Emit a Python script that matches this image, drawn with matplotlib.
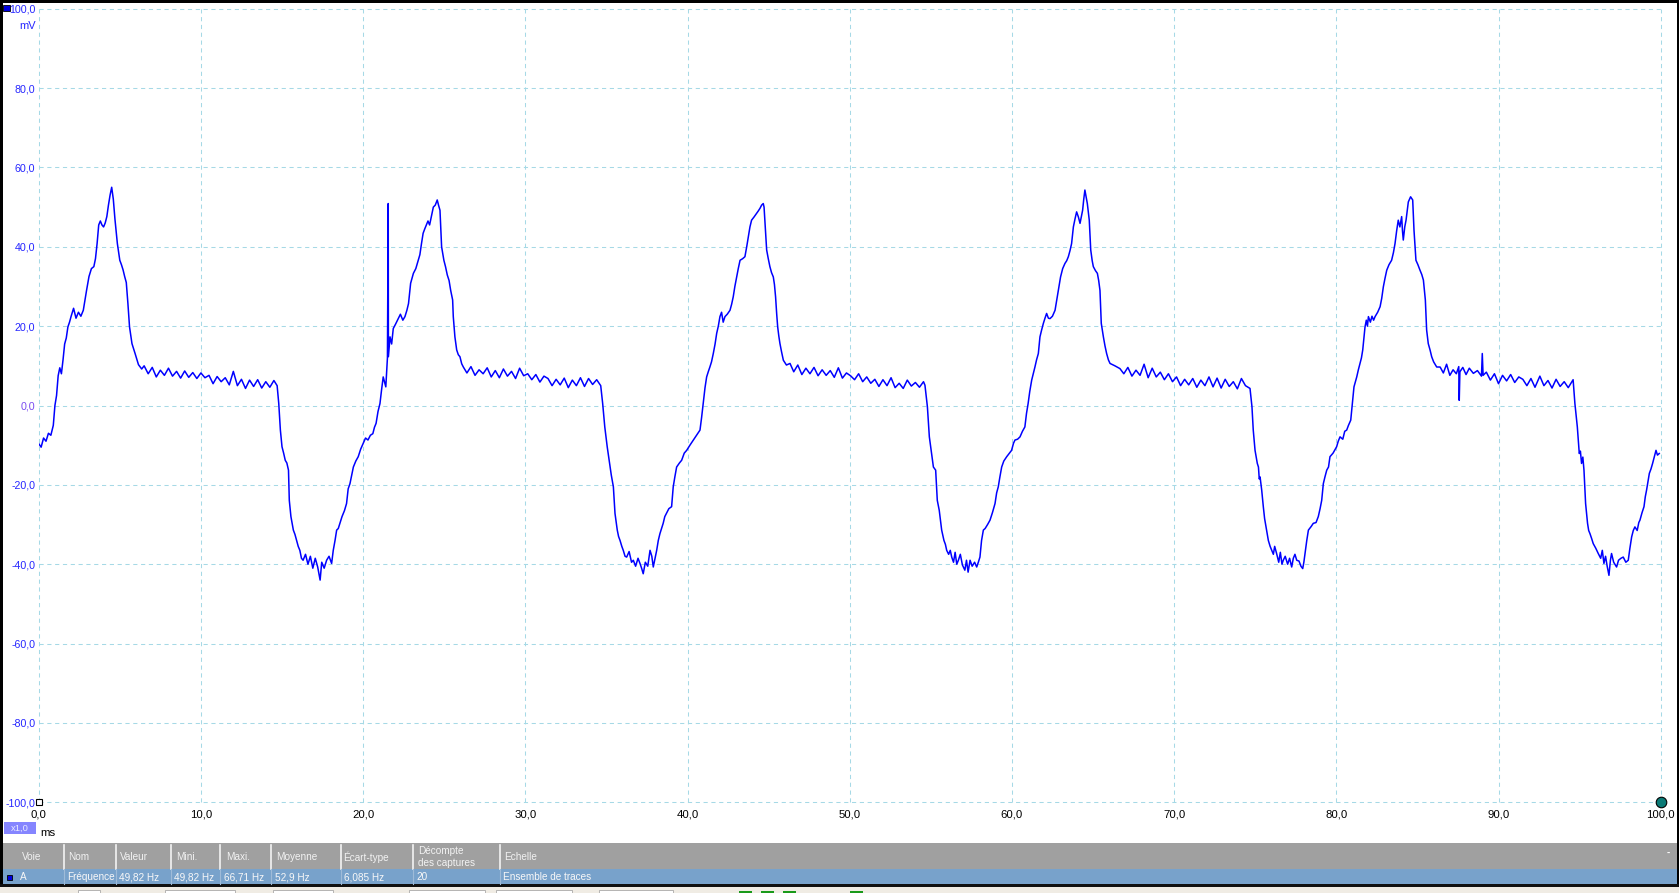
import matplotlib
matplotlib.use("Agg")
import matplotlib.pyplot as plt
from matplotlib.patches import Rectangle

plt.rcParams['font.family'] = ['Liberation Sans', 'DejaVu Sans']

W, H = 1679, 893

# axis ticks (ms / mV)
x_ticks = [0, 10, 20, 30, 40, 50, 60, 70, 80, 90, 100]
y_ticks = [-100, -80, -60, -40, -20, 0, 20, 40, 60, 80, 100]

# trace, (ms, mV), one list per cycle
cycle_1 = [
    (0.0, -9.6), (0.15, -10.5), (0.3, -8.2), (0.45, -9.0), (0.6, -7.0), (0.75, -7.5),
    (0.9, -5.0), (1.0, 0.0), (1.1, 2.5), (1.2, 7.5), (1.3, 9.5), (1.4, 8.0), (1.5, 11.5),
    (1.6, 15.5), (1.7, 17.0), (1.8, 19.8), (1.9, 21.0), (2.0, 22.5), (2.15, 24.5),
    (2.3, 22.0), (2.45, 23.5), (2.6, 22.5), (2.75, 24.0), (2.85, 26.5), (2.95, 29.0),
    (3.1, 32.5), (3.25, 34.5), (3.4, 35.0), (3.5, 37.0), (3.6, 40.8), (3.7, 45.5),
    (3.8, 46.5), (3.9, 45.5), (4.0, 45.0), (4.1, 46.0), (4.2, 47.6), (4.3, 50.5),
    (4.4, 53.0), (4.5, 55.0), (4.6, 52.0), (4.7, 47.0), (4.85, 40.8), (5.0, 36.6),
    (5.1, 35.5), (5.2, 34.2), (5.3, 32.5), (5.4, 31.0), (5.5, 25.7), (5.6, 19.8),
    (5.75, 15.6), (5.95, 13.0), (6.15, 10.3), (6.35, 9.2), (6.5, 10.0),
    (6.75, 8.0), (7.0, 9.6), (7.25, 7.2), (7.5, 8.9), (7.75, 7.6), (8.0, 9.4), (8.25, 7.4),
    (8.5, 8.6), (8.75, 6.9), (9.0, 8.7), (9.25, 7.1), (9.5, 8.3), (9.75, 6.8), (10.0, 8.2),
    (10.25, 7.0), (10.5, 7.6), (10.75, 5.5), (11.0, 7.3), (11.25, 6.0), (11.5, 7.0),
    (11.75, 5.2), (12.0, 8.6), (12.25, 5.0), (12.5, 6.6), (12.75, 4.3), (13.0, 6.4),
    (13.25, 4.8), (13.5, 6.5), (13.75, 4.4), (14.0, 6.0), (14.25, 4.6), (14.5, 6.3),
    (14.7, 5.0), (14.8, 0.5), (14.9, -6.2), (15.0, -10.4), (15.1, -12.0), (15.2, -13.8),
    (15.3, -14.5), (15.4, -16.3), (15.45, -23.9), (15.55, -28.0), (15.7, -31.4),
    (15.8, -32.5), (15.9, -34.0), (16.0, -35.5), (16.1, -36.5), (16.2, -38.5),
    (16.3, -39.0), (16.45, -37.5), (16.6, -40.0), (16.75, -38.0), (16.9, -41.0),
    (17.05, -38.5), (17.2, -40.7), (17.35, -44.0), (17.45, -39.5), (17.6, -41.0),
    (17.75, -39.0), (17.9, -38.0), (18.06, -39.8), (18.16, -36.5), (18.27, -34.0),
    (18.37, -31.4), (18.47, -31.0), (18.57, -29.7), (18.7, -28.0), (18.85, -26.5),
    (18.98, -24.7), (19.08, -21.0), (19.19, -19.7), (19.3, -17.5), (19.4, -15.5),
    (19.55, -14.0), (19.7, -12.9), (19.85, -11.0),
]
cycle_2 = [
    (20.0, -9.6), (20.15, -8.2), (20.3, -8.7), (20.45, -7.5), (20.6, -7.1), (20.7, -5.5),
    (20.8, -4.5), (20.92, -1.5), (21.04, 0.5), (21.14, 4.0), (21.24, 7.2), (21.32, 6.0),
    (21.4, 4.7), (21.5, 12.0), (21.55, 50.9), (21.56, 12.3), (21.66, 17.3), (21.76, 15.5),
    (21.86, 19.4), (22.0, 20.5), (22.17, 21.9), (22.3, 23.0), (22.45, 21.5), (22.58, 22.4),
    (22.7, 24.0), (22.8, 25.7), (22.93, 30.8), (23.1, 33.3), (23.25, 34.5), (23.4, 36.6),
    (23.5, 38.0), (23.6, 40.8), (23.7, 43.4), (23.8, 44.5), (23.9, 45.5), (24.0, 46.5),
    (24.1, 45.5), (24.2, 47.5), (24.33, 50.0), (24.45, 50.5), (24.57, 51.8), (24.65, 50.5),
    (24.74, 49.2), (24.84, 40.0), (24.98, 36.6), (25.08, 35.0), (25.19, 32.9), (25.3, 31.5),
    (25.4, 29.0), (25.52, 26.6), (25.56, 22.4), (25.66, 17.3), (25.77, 14.0), (25.87, 12.8),
    (25.97, 12.3), (26.08, 10.5), (26.18, 9.7),
    (26.4, 8.2), (26.65, 9.8), (26.9, 7.6), (27.15, 9.0), (27.4, 8.0), (27.65, 9.5),
    (27.9, 7.2), (28.15, 8.8), (28.4, 7.0), (28.65, 9.2), (28.9, 7.4), (29.15, 8.6),
    (29.4, 6.8), (29.65, 9.4), (29.9, 7.5), (30.15, 8.0), (30.4, 6.5), (30.65, 7.8),
    (30.9, 5.9), (31.15, 7.4), (31.4, 6.8), (31.65, 5.0), (31.9, 6.6), (32.15, 5.2),
    (32.4, 6.9), (32.65, 4.5), (32.9, 6.4), (33.15, 5.0), (33.4, 7.0), (33.65, 4.8),
    (33.9, 6.8), (34.15, 5.3), (34.4, 6.5), (34.65, 5.0),
    (34.77, 0.5), (34.9, -5.4), (35.05, -10.4), (35.2, -14.6), (35.3, -17.5), (35.43, -20.5),
    (35.53, -27.2), (35.67, -31.4), (35.75, -33.0), (35.84, -34.0), (35.95, -35.5),
    (36.04, -36.5), (36.15, -38.0), (36.25, -38.2), (36.4, -36.8), (36.55, -39.5),
    (36.66, -39.0), (36.8, -40.5), (36.95, -38.5), (37.07, -39.8), (37.17, -41.0),
    (37.27, -42.4), (37.4, -39.5), (37.55, -40.5), (37.69, -36.5), (37.8, -38.0),
    (37.89, -40.7), (38.0, -38.5), (38.1, -36.5), (38.2, -34.0), (38.3, -32.3),
    (38.4, -31.0), (38.5, -29.7), (38.6, -28.0), (38.7, -27.2), (38.85, -26.0),
    (39.02, -25.5), (39.12, -20.5), (39.22, -18.0), (39.33, -15.5), (39.5, -14.5),
    (39.64, -13.8), (39.8, -12.0), (39.95, -11.3),
]
cycle_3 = [
    (40.15, -10.0), (40.36, -8.7), (40.55, -7.5), (40.77, -6.2), (40.87, -3.0), (40.97, 0.5),
    (41.08, 4.5), (41.18, 7.2), (41.28, 8.5), (41.38, 9.7), (41.48, 11.0), (41.59, 13.1),
    (41.7, 15.5), (41.8, 18.2), (41.9, 20.0), (42.0, 22.4), (42.1, 23.5), (42.2, 21.0),
    (42.31, 22.4), (42.45, 23.0), (42.62, 24.0), (42.72, 25.5), (42.82, 27.4), (42.92, 30.0),
    (43.03, 32.4), (43.13, 34.5), (43.24, 36.6), (43.4, 37.0), (43.54, 37.5), (43.65, 40.0),
    (43.75, 42.5), (43.85, 45.0), (43.95, 46.7), (44.1, 47.5), (44.26, 48.4), (44.36, 49.0),
    (44.47, 49.7), (44.57, 50.5), (44.67, 50.9), (44.72, 50.0), (44.78, 45.9), (44.88, 39.2),
    (44.98, 37.0), (45.08, 35.0), (45.18, 33.5), (45.29, 32.4), (45.36, 30.5), (45.43, 27.4),
    (45.5, 23.0), (45.56, 19.8), (45.63, 17.5), (45.7, 15.6), (45.8, 13.5), (45.91, 11.4),
    (46.1, 10.2), (46.32, 10.6),
    (46.55, 8.5), (46.8, 10.2), (47.05, 7.8), (47.3, 9.4), (47.55, 8.0), (47.8, 9.6),
    (48.05, 7.5), (48.3, 9.0), (48.55, 7.6), (48.8, 8.8), (49.05, 7.1), (49.3, 9.5),
    (49.55, 6.9), (49.8, 8.2), (50.05, 7.5), (50.3, 6.5), (50.55, 8.0), (50.8, 6.0),
    (51.05, 7.2), (51.3, 5.6), (51.55, 6.6), (51.8, 4.8), (52.05, 6.5), (52.3, 5.0),
    (52.55, 7.0), (52.8, 4.5), (53.05, 5.6), (53.3, 4.3), (53.55, 6.4), (53.8, 4.9),
    (54.05, 5.8), (54.3, 4.6), (54.55, 6.0), (54.64, 5.1),
    (54.79, -0.3), (54.91, -7.9), (55.05, -12.1), (55.16, -15.5), (55.3, -16.3),
    (55.4, -23.9), (55.52, -26.4), (55.6, -29.0), (55.67, -31.4), (55.81, -34.0),
    (55.9, -35.0), (55.98, -36.5), (56.1, -37.5), (56.2, -36.5), (56.29, -38.2),
    (56.4, -39.5), (56.5, -37.0), (56.6, -40.0), (56.7, -39.0), (56.82, -37.5),
    (56.95, -40.2), (57.1, -41.5), (57.2, -39.0), (57.3, -42.0), (57.42, -39.0),
    (57.55, -40.5), (57.7, -39.5), (57.83, -40.7), (57.93, -39.5), (58.03, -38.2),
    (58.13, -34.0), (58.24, -31.4), (58.35, -31.0), (58.5, -30.0), (58.65, -28.9),
    (58.8, -27.0), (58.96, -24.7), (59.06, -22.0), (59.16, -20.5), (59.26, -18.0),
    (59.37, -15.5), (59.5, -14.0), (59.68, -12.9), (59.85, -12.0), (59.98, -11.3),
]
cycle_4 = [
    (60.1, -9.5), (60.19, -8.7), (60.35, -8.5), (60.5, -7.9), (60.65, -6.5), (60.8, -5.4),
    (60.9, -2.0), (61.0, 0.5), (61.1, 3.5), (61.22, 6.4), (61.32, 8.0), (61.42, 9.7),
    (61.52, 11.5), (61.63, 13.1), (61.73, 17.3), (61.83, 19.0), (61.94, 20.7), (62.04, 22.0),
    (62.14, 23.2), (62.25, 22.0), (62.35, 21.9), (62.5, 22.5), (62.66, 24.0), (62.76, 26.5),
    (62.86, 29.0), (63.0, 32.4), (63.13, 34.5), (63.27, 35.8), (63.38, 36.5), (63.48, 37.5),
    (63.58, 39.0), (63.68, 40.8), (63.79, 45.0), (63.89, 47.0), (63.99, 48.8), (64.1, 47.5),
    (64.2, 45.9), (64.28, 47.5), (64.36, 49.2), (64.43, 52.0), (64.5, 54.3), (64.58, 52.5),
    (64.65, 50.9), (64.77, 46.7), (64.86, 39.2), (64.95, 36.5), (65.02, 35.0), (65.15, 34.0),
    (65.27, 33.3), (65.35, 31.5), (65.43, 29.0), (65.51, 20.7), (65.64, 17.3), (65.74, 15.0),
    (65.84, 13.1), (65.95, 11.5), (66.05, 10.6), (66.35, 10.0), (66.66, 9.3),
    (66.9, 8.0), (67.15, 9.6), (67.4, 7.4), (67.65, 8.9), (67.9, 7.6), (68.15, 10.4),
    (68.4, 7.0), (68.65, 9.4), (68.9, 7.2), (69.15, 8.4), (69.4, 6.5), (69.65, 8.0),
    (69.9, 6.0), (70.15, 7.2), (70.4, 5.0), (70.65, 6.6), (70.9, 5.2), (71.15, 6.8),
    (71.4, 4.6), (71.65, 6.4), (71.9, 5.0), (72.15, 7.2), (72.4, 4.7), (72.65, 6.9),
    (72.9, 4.4), (73.15, 6.6), (73.4, 4.8), (73.65, 6.0), (73.9, 4.2), (74.15, 6.8),
    (74.4, 5.0), (74.68, 4.3),
    (74.8, -0.3), (74.88, -6.2), (74.99, -11.3), (75.13, -14.6), (75.2, -15.5),
    (75.25, -18.5), (75.3, -18.0), (75.4, -21.3), (75.5, -25.5), (75.58, -28.5),
    (75.67, -30.6), (75.81, -34.0), (75.92, -35.5), (76.02, -36.5), (76.12, -37.5),
    (76.2, -35.5), (76.32, -37.3), (76.45, -39.5), (76.55, -37.0), (76.65, -40.0),
    (76.73, -39.0), (76.85, -38.0), (77.0, -40.0), (77.12, -38.5), (77.25, -40.7),
    (77.35, -38.5), (77.45, -37.5), (77.56, -39.0), (77.7, -39.2), (77.82, -40.5),
    (77.93, -41.1), (78.0, -39.5), (78.07, -37.3), (78.18, -34.0), (78.28, -31.4),
    (78.45, -30.5), (78.58, -29.7), (78.75, -29.5), (78.89, -28.0), (79.0, -26.0),
    (79.1, -23.9), (79.2, -19.7), (79.3, -18.0), (79.41, -16.3), (79.52, -15.5),
    (79.61, -12.9), (79.8, -12.0),
]
cycle_5 = [
    (80.02, -10.4), (80.12, -9.0), (80.23, -7.9), (80.4, -8.5), (80.52, -6.5), (80.64, -6.2),
    (80.75, -5.0), (80.89, -3.7), (80.99, 0.5), (81.09, 4.7), (81.18, 6.0), (81.26, 7.2),
    (81.36, 9.0), (81.46, 10.6), (81.55, 12.0), (81.63, 14.0), (81.7, 17.0), (81.77, 19.8),
    (81.85, 21.5), (81.92, 20.0), (81.98, 22.4), (82.1, 21.0), (82.2, 22.5), (82.3, 21.5),
    (82.39, 22.4), (82.55, 23.5), (82.7, 24.9), (82.8, 27.0), (82.9, 29.9), (83.0, 32.0),
    (83.11, 34.1), (83.25, 35.5), (83.41, 36.6), (83.52, 38.5), (83.62, 40.8), (83.72, 44.0),
    (83.82, 46.7), (83.92, 45.0), (84.03, 47.6), (84.08, 44.0), (84.13, 41.7), (84.22, 45.0),
    (84.3, 46.7), (84.37, 49.0), (84.44, 51.3), (84.58, 52.6), (84.71, 51.8), (84.79, 44.2),
    (84.91, 36.6), (85.03, 35.5), (85.16, 34.1), (85.27, 33.0), (85.37, 31.6), (85.49, 26.6),
    (85.57, 19.0), (85.67, 15.6), (85.78, 14.0), (85.88, 12.3), (86.0, 11.0), (86.19, 9.7),
    (86.4, 9.7), (86.6, 8.2), (86.8, 10.4), (87.0, 7.6), (87.2, 9.0), (87.4, 8.0),
    (87.55, 9.8), (87.58, 1.3), (87.62, 8.5), (87.8, 9.6), (88.0, 7.8), (88.2, 9.4),
    (88.45, 8.1), (88.7, 8.8), (88.95, 7.4), (89.0, 13.1), (89.05, 7.6), (89.25, 8.4),
    (89.5, 6.4), (89.75, 8.0), (90.0, 5.5), (90.25, 7.6), (90.5, 6.2), (90.75, 7.8),
    (91.0, 5.8), (91.25, 7.2), (91.5, 6.6), (91.75, 5.0), (92.0, 6.8), (92.25, 4.6),
    (92.55, 7.4), (92.8, 5.0), (93.05, 6.3), (93.3, 4.4), (93.55, 6.6), (93.8, 4.8),
    (94.05, 6.0), (94.3, 4.5), (94.6, 6.5),
    (94.71, 0.5), (94.86, -5.4), (94.98, -12.1), (95.05, -11.5), (95.12, -14.6),
    (95.2, -13.0), (95.27, -16.3), (95.37, -24.7), (95.49, -29.7), (95.56, -31.5),
    (95.64, -32.3), (95.74, -33.5), (95.84, -34.8), (96.0, -36.0), (96.15, -37.3),
    (96.3, -38.5), (96.4, -36.5), (96.5, -39.8), (96.6, -38.0), (96.7, -40.5),
    (96.81, -42.8), (96.9, -39.0), (96.97, -37.3), (97.1, -39.5), (97.28, -40.7),
    (97.4, -39.0), (97.55, -38.5), (97.69, -38.2), (97.85, -39.5), (98.0, -39.0),
    (98.1, -36.0), (98.21, -33.1), (98.31, -31.5), (98.41, -30.6), (98.55, -31.5),
    (98.65, -29.5), (98.72, -28.9), (98.85, -27.0), (98.97, -25.5), (99.05, -23.0),
    (99.13, -21.3), (99.22, -19.0), (99.3, -17.1), (99.4, -16.0), (99.5, -14.6),
    (99.6, -13.0), (99.71, -11.3), (99.8, -12.5), (99.91, -12.1),
]

# measurement table under the scope view
col_heads = ["Voie", "Nom", "Valeur", "Mini.", "Maxi.", "Moyenne", "Écart-type",
             "Décompte\ndes captures", "Echelle"]
row_vals = ["A", "Fréquence", "49,82 Hz", "49,82 Hz", "66,71 Hz", "52,9 Hz", "6,085 Hz",
            "20", "Ensemble de traces"]
head_x = [22, 68, 120, 176, 226, 276, 343, 418, 504]
row_x = [20, 67, 119, 174, 224, 275, 344, 416, 503]
col_sep_x = [64, 116, 171, 220, 271, 341, 413, 500]


def fx(px):
    return px / W


def fy(py):
    return 1 - py / H


def fmt(v):
    return f"{v:.1f}".replace(".", ",")


fig = plt.figure(figsize=(W / 100, H / 100), dpi=100)
fig.patch.set_facecolor("white")

x0, x1, y0, y1 = 38.7, 1660.7, 8.7, 802.3
ax = fig.add_axes([fx(x0), fy(y1), fx(x1 - x0), (y1 - y0) / H])
ax.set_xlim(x_ticks[0], x_ticks[-1])
ax.set_ylim(y_ticks[0], y_ticks[-1])
ax.patch.set_alpha(0)
for s in ax.spines.values():
    s.set_visible(False)

ax.set_xticks(x_ticks)
ax.set_xticklabels([fmt(v) for v in x_ticks])
ax.set_yticks(y_ticks)
ax.set_yticklabels([fmt(v) for v in y_ticks])
ax.tick_params(axis="x", length=0, pad=5.5, labelsize=8.2, labelcolor="black")
ax.tick_params(axis="y", length=0, pad=2.4, labelsize=7.7, labelcolor="#2626ff")
for lab in ax.get_yticklabels():
    if lab.get_text() == "0,0":
        lab.set_color("#7a4cf0")

ax.grid(True, color="#a6d9e6", linestyle=(0, (4, 3.5)), linewidth=0.75)
ax.set_axisbelow(True)
for gl in ax.get_xgridlines() + ax.get_ygridlines():
    gl.set_clip_on(False)

cycles = [cycle_1, cycle_2, cycle_3, cycle_4, cycle_5]
t_ms = [p[0] for c in cycles for p in c]
v_mv = [p[1] for c in cycles for p in c]
ax.plot(t_ms, v_mv, color="#0000ff", lw=1.1, zorder=3)

# corner handles
ax.plot([x_ticks[0]], [y_ticks[0]], marker="s", ms=4.4, mfc="white", mec="black",
        mew=0.8, clip_on=False, zorder=5)
ax.plot([x_ticks[-1]], [y_ticks[0]], marker="o", ms=7.6, mfc="#0b7a76", mec="black",
        mew=0.8, clip_on=False, zorder=5)

fig.text(fx(35.5), fy(25.7), "mV", ha="right", va="center", fontsize=7.9, color="#2626ff")
fig.patches.append(Rectangle((fx(3.3), fy(11)), fx(6.4), 6.3 / H, transform=fig.transFigure,
                             facecolor="#0000dd", edgecolor="black", lw=0.6))

# x1,0 zoom box and unit
fig.patches.append(Rectangle((fx(4), fy(834)), fx(31.7), 12.3 / H, transform=fig.transFigure,
                             facecolor="#8585ff", edgecolor="none"))
fig.text(fx(20), fy(828.3), "x1,0", ha="center", va="center", fontsize=6.8, color="#e8e8ff")
fig.text(fx(40.5), fy(832.5), "ms", ha="left", va="center", fontsize=8.2, color="black")

# window borders
fig.patches.append(Rectangle((0, 0), fx(3), 1, transform=fig.transFigure,
                             facecolor="black", edgecolor="none"))
fig.patches.append(Rectangle((0, fy(3)), 1, 3 / H, transform=fig.transFigure,
                             facecolor="black", edgecolor="none"))
fig.patches.append(Rectangle((fx(1676.7), 0), fx(2.3), 1, transform=fig.transFigure,
                             facecolor="black", edgecolor="none"))

# table
fig.patches.append(Rectangle((fx(3), fy(868.7)), fx(1673.7), 26 / H, transform=fig.transFigure,
                             facecolor="#a0a0a0", edgecolor="none"))
fig.patches.append(Rectangle((fx(3), fy(884)), fx(1673.7), 15.3 / H, transform=fig.transFigure,
                             facecolor="#78a2cb", edgecolor="none"))
fig.patches.append(Rectangle((0, fy(887)), 1, 3 / H, transform=fig.transFigure,
                             facecolor="#101010", edgecolor="none"))
fig.patches.append(Rectangle((0, 0), 1, 6 / H, transform=fig.transFigure,
                             facecolor="#f0ece4", edgecolor="none"))
for sx in col_sep_x:
    fig.add_artist(plt.Line2D([fx(sx), fx(sx)], [fy(868.5), fy(844.5)], color="#f4f4f4", lw=1.2))
    fig.add_artist(plt.Line2D([fx(sx), fx(sx)], [fy(884), fy(869)], color="#9fbbd8", lw=0.8))
for hx, head in zip(head_x, col_heads):
    if "\n" in head:
        top, bot = head.split("\n")
        fig.text(fx(hx), fy(851), top, ha="left", va="center", fontsize=7.2, color="#f2f2f2")
        fig.text(fx(hx), fy(862.5), bot, ha="left", va="center", fontsize=7.2, color="#f2f2f2")
    else:
        fig.text(fx(hx), fy(857), head, ha="left", va="center", fontsize=7.2, color="#f2f2f2")
for rx, val in zip(row_x, row_vals):
    fig.text(fx(rx), fy(877.3), val, ha="left", va="center", fontsize=7.2, color="#f8f8f8")
fig.text(fx(1668), fy(853), "-", ha="center", va="center", fontsize=7, color="white",
         fontweight="bold")
fig.patches.append(Rectangle((fx(7.3), fy(880)), fx(5), 5.3 / H, transform=fig.transFigure,
                             facecolor="#0000dd", edgecolor="black", lw=0.6))

# toolbar strip at the very bottom
for bx, bw in [(78, 22), (165, 70), (273, 60), (409, 76), (496, 76), (599, 74)]:
    fig.patches.append(Rectangle((fx(bx), 0), fx(bw), 3 / H, transform=fig.transFigure,
                                 facecolor="white", edgecolor="#9a9a9a", lw=0.5))
for gx in [739, 761, 783, 850]:
    fig.patches.append(Rectangle((fx(gx), 0), fx(13), 2 / H, transform=fig.transFigure,
                                 facecolor="#1a9a1a", edgecolor="none"))

fig.savefig("out.png", dpi=100)
